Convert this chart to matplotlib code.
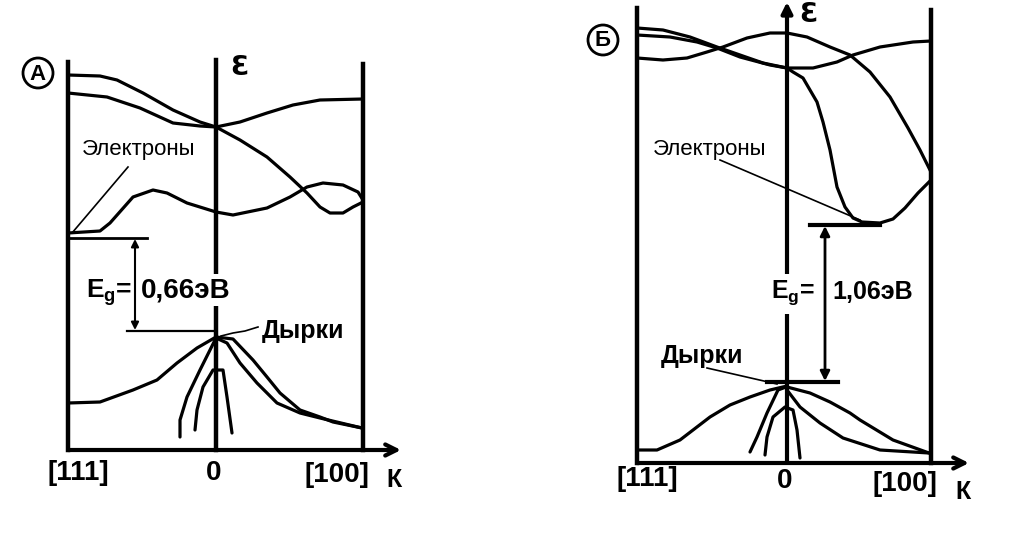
import matplotlib
matplotlib.use('Agg')
import matplotlib.pyplot as plt
from matplotlib.patches import Circle, Rectangle

# ----------------- Data (pixel coordinates of the scanned figure) -----------------

# Panel A (Ge): frame
a_left_x, a_center_x, a_right_x = 68, 216, 363
a_top_y, a_bottom_y = 62, 450

# Panel A conduction bands
a_c1_x = [68, 100, 117, 143, 173, 200, 216, 240, 267, 290, 307, 320, 330, 343, 353, 363]
a_c1_y = [75, 76, 80, 93, 110, 122, 127, 140, 157, 177, 193, 207, 213, 213, 207, 202]
a_c2_x = [68, 107, 140, 173, 200, 216, 240, 267, 293, 320, 363]
a_c2_y = [93, 97, 108, 123, 126, 127, 122, 113, 105, 100, 99]
a_c3_x = [68, 100, 110, 133, 153, 167, 187, 216, 233, 267, 290, 307, 323, 343, 358, 363]
a_c3_y = [233, 231, 223, 197, 190, 193, 203, 212, 215, 208, 197, 187, 183, 185, 192, 200]

# Panel A valence bands
a_vh_x = [68, 100, 133, 157, 177, 197, 216]
a_vh_y = [403, 402, 390, 380, 363, 348, 337]
a_vl_x = [215, 200, 187, 180, 180]
a_vl_y = [340, 370, 397, 420, 437]
a_vso_x = [195, 197, 203, 213, 223, 227, 232]
a_vso_y = [430, 410, 387, 370, 370, 397, 433]
a_vr1_x = [216, 233, 253, 267, 280, 300, 320, 333, 362]
a_vr1_y = [337, 339, 360, 377, 393, 410, 417, 422, 428]
a_vr2_x = [216, 227, 240, 257, 277, 300, 320, 362]
a_vr2_y = [338, 343, 363, 383, 403, 413, 418, 428]

# Panel Б (Si): frame
b_left_x, b_center_x, b_right_x = 637, 787, 931
b_top_y, b_bottom_y = 8, 463

# Panel Б conduction bands
b_c1_x = [637, 663, 690, 717, 740, 763, 787]
b_c1_y = [28, 30, 37, 47, 55, 63, 68]
b_c2_x = [637, 670, 697, 717, 740, 770, 787]
b_c2_y = [35, 37, 42, 48, 57, 65, 68]
b_c3_x = [637, 663, 687, 707, 723, 747, 770, 787, 807, 830, 850, 870, 890, 908, 920, 931]
b_c3_y = [58, 60, 58, 52, 47, 38, 33, 33, 37, 47, 55, 72, 97, 128, 150, 172]
b_c4_x = [787, 813, 837, 853, 880, 913, 931]
b_c4_y = [68, 68, 62, 55, 47, 42, 41]
b_c5_x = [787, 793, 803, 817, 823, 830, 837, 845, 853, 862, 880, 893, 905, 918, 931]
b_c5_y = [68, 72, 78, 102, 122, 150, 187, 207, 218, 222, 223, 219, 208, 193, 180]

# Panel Б valence bands
b_vh_x = [637, 657, 680, 710, 730, 750, 770, 787]
b_vh_y = [450, 450, 440, 417, 405, 397, 390, 386]
b_vl_x = [786, 778, 767, 757, 750]
b_vl_y = [387, 390, 413, 437, 452]
b_vso_x = [765, 767, 773, 785, 793, 797, 800]
b_vso_y = [455, 437, 417, 407, 410, 430, 458]
b_vr1_x = [787, 810, 830, 850, 860, 893, 929]
b_vr1_y = [387, 393, 402, 413, 420, 440, 453]
b_vr2_x = [787, 800, 820, 843, 880, 929]
b_vr2_y = [390, 407, 423, 438, 450, 453]

# Labels
gap_a = '0,66эВ'
gap_b = '1,06эВ'
k_labels = ['[111]', '0', '[100]']


# ----------------- Drawing -----------------

fig = plt.figure(figsize=(10.22, 5.39), dpi=100)
ax = fig.add_axes([0, 0, 1, 1])
ax.set_xlim(0, 1022)
ax.set_ylim(539, 0)
ax.axis('off')

LW = 2.3
kw = dict(color='black', lw=LW, solid_capstyle='round', solid_joinstyle='round')
FONT = 'Liberation Sans'
EG = r'E$_\mathregular{g}$='


def frame(left, center, right, top, bottom, arrow_top):
    ax.plot([left, left], [top, bottom], color='black', lw=3.2)
    ax.plot([right, right], [top + 2, bottom], color='black', lw=3.2)
    if arrow_top:
        ax.annotate('', xy=(center, top - 6), xytext=(center, bottom),
                    arrowprops=dict(arrowstyle='-|>', lw=3.0, color='black',
                                    mutation_scale=16, shrinkA=0, shrinkB=0))
    else:
        ax.plot([center, center], [top - 2, bottom], color='black', lw=3.2)
    ax.annotate('', xy=(right + 38, bottom), xytext=(left, bottom),
                arrowprops=dict(arrowstyle='->', lw=3.0, color='black',
                                mutation_scale=20, shrinkA=0, shrinkB=0))


def k_axis_labels(xs, ys):
    for lab, x, y in zip(k_labels, xs, ys):
        ax.text(x, y, lab, fontsize=20, family=FONT, weight='bold',
                ha='center', va='center')


# Panel A
frame(a_left_x, a_center_x, a_right_x, a_top_y, a_bottom_y, False)
for xs, ys in [(a_c1_x, a_c1_y), (a_c2_x, a_c2_y), (a_c3_x, a_c3_y),
               (a_vh_x, a_vh_y), (a_vl_x, a_vl_y), (a_vso_x, a_vso_y),
               (a_vr1_x, a_vr1_y), (a_vr2_x, a_vr2_y)]:
    ax.plot(xs, ys, **kw)

ax.plot([68, 147], [238, 238], color='black', lw=2.0)
ax.plot([127, 216], [331, 331], color='black', lw=1.6)
ax.annotate('', xy=(135, 239), xytext=(135, 330),
            arrowprops=dict(arrowstyle='<|-|>', lw=1.5, color='black',
                            mutation_scale=11, shrinkA=0, shrinkB=0))
ax.plot([128, 72], [167, 233], color='black', lw=1.2)
ax.plot([221, 233, 245, 258], [336, 333, 331, 327], color='black', lw=1.2)

ax.text(139, 150, 'Электроны', fontsize=16, family=FONT, ha='center', va='center')
ax.text(109, 292, EG, fontsize=19, family=FONT, weight='bold', ha='center', va='center')
ax.text(186, 290, gap_a, fontsize=20, family=FONT, weight='bold',
        ha='center', va='center',
        bbox=dict(boxstyle='square,pad=0.1', fc='white', ec='none'))
ax.text(303, 331, 'Дырки', fontsize=18, family=FONT, weight='bold',
        ha='center', va='center')
k_axis_labels([78, 214, 337], [473, 473, 475])
ax.text(394, 480, 'К', fontsize=18, family=FONT, weight='bold', ha='center', va='center')
ax.text(239, 68, 'Ɛ', fontsize=19, family='DejaVu Sans', weight='bold',
        ha='center', va='center')
ax.add_patch(Circle((38, 73), 15, fill=False, lw=2.0, color='black'))
ax.text(38, 74, 'A', fontsize=16, family=FONT, weight='bold', ha='center', va='center')

# Panel Б
frame(b_left_x, b_center_x, b_right_x, b_top_y, b_bottom_y, True)
for xs, ys in [(b_c1_x, b_c1_y), (b_c2_x, b_c2_y), (b_c3_x, b_c3_y),
               (b_c4_x, b_c4_y), (b_c5_x, b_c5_y),
               (b_vh_x, b_vh_y), (b_vl_x, b_vl_y), (b_vso_x, b_vso_y),
               (b_vr1_x, b_vr1_y), (b_vr2_x, b_vr2_y)]:
    ax.plot(xs, ys, **kw)

ax.plot([810, 880], [225, 225], color='black', lw=3.0)
ax.plot([767, 838], [382, 382], color='black', lw=3.0)
ax.annotate('', xy=(825, 226), xytext=(825, 381),
            arrowprops=dict(arrowstyle='<|-|>', lw=2.0, color='black',
                            mutation_scale=14, shrinkA=0, shrinkB=0))
ax.plot([720, 860], [160, 220], color='black', lw=1.2)
ax.plot([707, 777], [368, 384], color='black', lw=1.2)

ax.text(710, 150, 'Электроны', fontsize=16, family=FONT, ha='center', va='center')
ax.add_patch(Rectangle((777, 274), 20, 40, fc='white', ec='none', zorder=3))
ax.text(793, 293, EG, fontsize=18, family=FONT, weight='bold',
        ha='center', va='center', zorder=4)
ax.text(873, 292, gap_b, fontsize=18, family=FONT, weight='bold',
        ha='center', va='center')
ax.text(702, 356, 'Дырки', fontsize=18, family=FONT, weight='bold',
        ha='center', va='center')
k_axis_labels([647, 785, 905], [479, 481, 484])
ax.text(963, 492, 'К', fontsize=18, family=FONT, weight='bold', ha='center', va='center')
ax.text(808, 15, 'Ɛ', fontsize=19, family='DejaVu Sans', weight='bold',
        ha='center', va='center')
ax.add_patch(Circle((603, 40), 15, fill=False, lw=2.0, color='black'))
ax.text(603, 41, 'Б', fontsize=16, family=FONT, weight='bold', ha='center', va='center')

fig.savefig('out.png', dpi=100)
plt.close(fig)
